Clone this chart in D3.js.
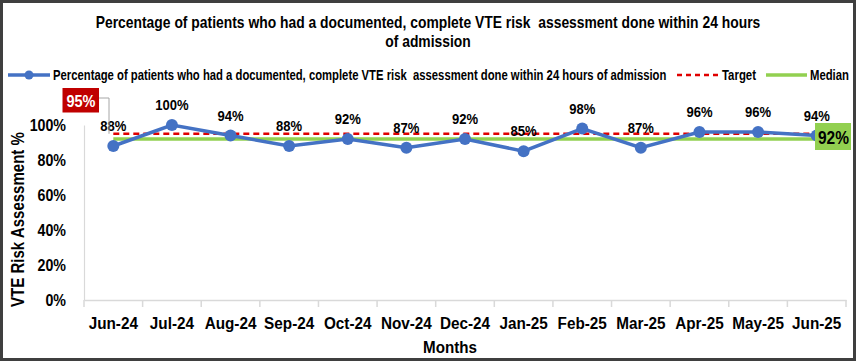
<!DOCTYPE html>
<html><head><meta charset="utf-8">
<script src="https://cdn.jsdelivr.net/npm/d3@7"></script>
<style>
body{margin:0;background:#fff;}
svg{display:block;}
text{font-family:"Liberation Sans Narrow","Arial Narrow","Liberation Sans",Arial,sans-serif;font-weight:bold;white-space:pre;}
</style></head>
<body>
<svg id="c" width="856" height="361"></svg>
<script>
const months = ["Jun-24","Jul-24","Aug-24","Sep-24","Oct-24","Nov-24","Dec-24","Jan-25","Feb-25","Mar-25","Apr-25","May-25","Jun-25"];
const values = [88, 100, 94, 88, 92, 87, 92, 85, 98, 87, 96, 96, 94];
const targetValue = 95;
const medianValue = 92;
const yTicks = [0, 20, 40, 60, 80, 100];
const titleLines = ["Percentage of patients who had a documented, complete VTE risk  assessment done within 24 hours", "of admission"];
const seriesName = "Percentage of patients who had a documented, complete VTE risk  assessment done within 24 hours of admission";

const svg = d3.select("#c");
const W = 856, H = 361;

// Text compressed horizontally (narrow face emulation) via transform
function label(parent, px, py, str, size, opts = {}) {
  const t = parent.append("text").attr("x", 0).attr("y", 0)
    .attr("font-size", size).attr("fill", opts.fill || "#000")
    .attr("text-anchor", opts.anchor || "start").text(str);
  const L = t.node().getComputedTextLength();
  const f = opts.width ? opts.width / L : (opts.f || 0.88);
  const rot = opts.rotate ? ` rotate(${opts.rotate})` : "";
  t.attr("transform", `translate(${px},${py})${rot} scale(${f},1)`);
  return {t, f};
}

svg.append("rect").attr("x",1.5).attr("y",1.5).attr("width",W-3).attr("height",H-3)
  .attr("fill","#fff").attr("stroke","#3f3f3f").attr("stroke-width",3);

const x = d3.scaleBand().domain(months).range([84, 846]);
const y = d3.scaleLinear().domain([0, 100]).range([300, 125]);
const cx = d => x(d) + x.bandwidth()/2;

// title
const tt = label(svg, 428, 28, titleLines[0], 16, {anchor:"middle", width:665});
label(svg, 428, 47, titleLines[1], 16, {anchor:"middle", f: tt.f});

// legend
const lg = svg.append("g");
lg.append("line").attr("x1",8).attr("x2",50).attr("y1",75).attr("y2",75).attr("stroke","#4472C4").attr("stroke-width",3.5);
lg.append("circle").attr("cx",29).attr("cy",75).attr("r",4.5).attr("fill","#4472C4");
label(lg, 53, 80, seriesName, 15, {width:614});
lg.append("line").attr("x1",677).attr("x2",718).attr("y1",75).attr("y2",75).attr("stroke","#E00000").attr("stroke-width",2.5).attr("stroke-dasharray","5,4");
label(lg, 722, 80, "Target", 15, {width:34});
lg.append("line").attr("x1",766).attr("x2",807).attr("y1",75).attr("y2",75).attr("stroke","#92D050").attr("stroke-width",3.5);
label(lg, 810, 80, "Median", 15, {width:39});

// axes
const yPad = 18, yF = 0.89;
const yAxis = svg.append("g").attr("transform","translate(84,0)")
  .call(d3.axisLeft(y).tickValues(yTicks).tickSize(0).tickPadding(yPad).tickFormat(d=>d+"%"));
yAxis.select(".domain").attr("stroke","#d9d9d9").attr("stroke-width",1.2);
yAxis.selectAll("text").attr("font-size",16).attr("fill","#000").attr("font-family",null)
  .attr("x", -yPad / yF).attr("transform", `scale(${yF},1)`);

const xF = 0.9;
const xAxis = svg.append("g").attr("transform","translate(0,300)")
  .call(d3.axisBottom(x).tickSize(0).tickPadding(17));
xAxis.select(".domain").attr("stroke","#d9d9d9").attr("stroke-width",1.5);
xAxis.selectAll("text").attr("font-size",17).attr("fill","#000").attr("font-family",null)
  .attr("transform", `scale(${xF},1)`);
// boundary tick marks
const bounds = months.map(m=>x(m)).concat([x(months[months.length-1])+x.bandwidth()]);
svg.append("g").selectAll("line").data(bounds).join("line")
  .attr("x1",d=>d).attr("x2",d=>d).attr("y1",300).attr("y2",307).attr("stroke","#d9d9d9").attr("stroke-width",1.5);

// axis titles
label(svg, 24, 219.5, "VTE Risk Assessment %", 17.5, {anchor:"middle", rotate:-90, width:175});
label(svg, 450, 353, "Months", 16, {anchor:"middle", width:54});

// median and target lines
const x0 = cx(months[0]), x1 = cx(months[months.length-1]);
svg.append("line").attr("x1",x0).attr("x2",x1).attr("y1",y(medianValue)).attr("y2",y(medianValue))
  .attr("stroke","#92D050").attr("stroke-width",3.5);
svg.append("line").attr("x1",x0).attr("x2",x1).attr("y1",y(targetValue)).attr("y2",y(targetValue))
  .attr("stroke","#E00000").attr("stroke-width",2.5).attr("stroke-dasharray","6,4");

// series
const line = d3.line().x((d,i)=>cx(months[i])).y(d=>y(d));
svg.append("path").datum(values).attr("d",line).attr("fill","none").attr("stroke","#4472C4").attr("stroke-width",3.5);
svg.append("g").selectAll("circle").data(values).join("circle")
  .attr("cx",(d,i)=>cx(months[i])).attr("cy",d=>y(d)).attr("r",6).attr("fill","#4472C4");
const dl = svg.append("g");
values.forEach((v,i)=>label(dl, cx(months[i]), y(v)-15, v+"%", 15, {anchor:"middle", f:0.87}));

// target callout
const ty = y(targetValue);
svg.append("polyline").attr("points",`99,98 109,98 109,${ty}`).attr("fill","none").attr("stroke","#a6a6a6").attr("stroke-width",1);
svg.append("rect").attr("x",62.5).attr("y",88).attr("width",36.5).attr("height",24.5).attr("fill","#C00000");
label(svg, 81, 106.5, targetValue+"%", 17, {anchor:"middle", width:29, fill:"#fff"});

// median callout
svg.append("rect").attr("x",815).attr("y",123).attr("width",36).attr("height",27).attr("fill","#92D050");
label(svg, 833.5, 143.5, medianValue+"%", 18, {anchor:"middle", width:31});
</script>
</body></html>
